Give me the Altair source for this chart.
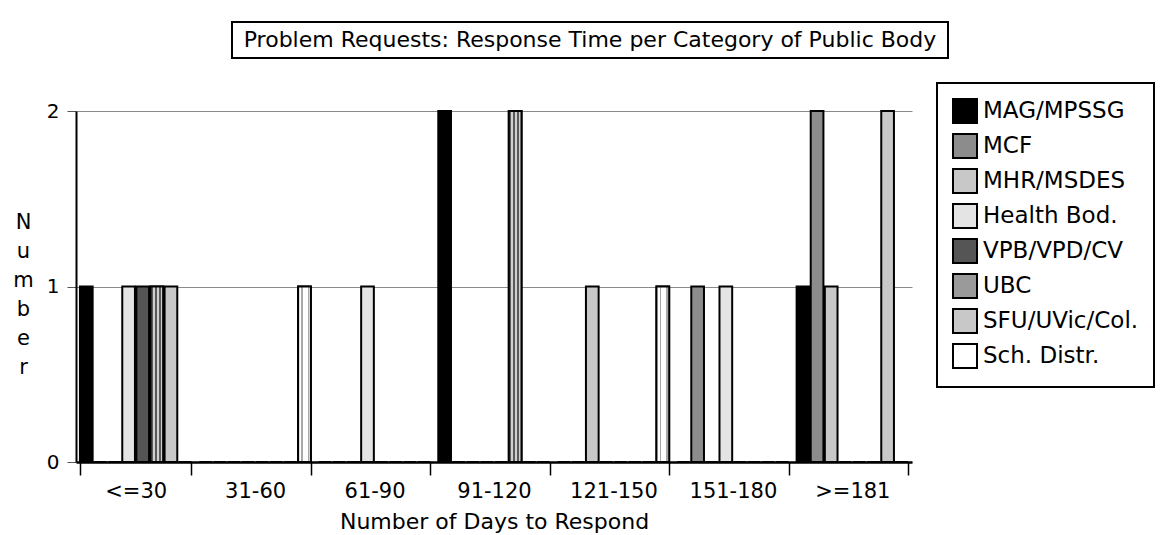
import altair as alt
import pandas as pd

# ---- data ----
categories = ["<=30", "31-60", "61-90", "91-120", "121-150", "151-180", ">=181"]
series = ["MAG/MPSSG", "MCF", "MHR/MSDES", "Health Bod.", "VPB/VPD/CV",
          "UBC", "SFU/UVic/Col.", "Sch. Distr."]
mag_mpssg = [1, 0, 0, 2, 0, 0, 1]
mcf = [0, 0, 0, 0, 0, 1, 2]
mhr_msdes = [0, 0, 0, 0, 1, 0, 1]
health_bod = [1, 0, 1, 0, 0, 1, 0]
vpb_vpd_cv = [1, 0, 0, 0, 0, 0, 0]
ubc = [1, 0, 0, 2, 0, 0, 0]
sfu_uvic_col = [1, 0, 0, 0, 0, 0, 2]
sch_distr = [0, 1, 0, 0, 1, 0, 0]
y_ticks = [0, 1, 2]

title_text = "Problem Requests: Response Time per Category of Public Body"
x_title = "Number of Days to Respond"
y_title = "Number"

# ---- styles ----
series_colors = ["#000000", "#8c8c8c", "#c8c8c8", "#e4e4e4", "#555555",
                 "#9a9a9a", "#c8c8c8", "#ffffff"]
FONT = "DejaVu Sans"


def stripes(colors, n):
    stops = []
    for i in range(n):
        c = colors[i % len(colors)]
        stops.append({"offset": i / n, "color": c})
        stops.append({"offset": (i + 1) / n, "color": c})
    return {"gradient": "linear", "x1": 0, "y1": 0, "x2": 1, "y2": 0, "stops": stops}


ubc_fill = stripes(["#5a5a5a", "#cfcfcf"], 6)
sch_fill = stripes(["#ffffff", "#ffffff", "#a8a8a8", "#ffffff", "#ffffff", "#ffffff", "#a8a8a8", "#ffffff"], 8)

values_by_series = [mag_mpssg, mcf, mhr_msdes, health_bod, vpb_vpd_cv, ubc, sfu_uvic_col, sch_distr]
rows = []
for s, vals in zip(series, values_by_series):
    for c, v in zip(categories, vals):
        rows.append({"Days": c, "Series": s, "Count": v})
df = pd.DataFrame(rows)

x_enc = alt.X(
    "Days:N", sort=categories,
    scale=alt.Scale(domain=categories, paddingInner=0.067, paddingOuter=0.033),
    axis=alt.Axis(
        title=x_title, labelAngle=0, labelFontSize=21, labelColor="black",
        tickSize=13, tickColor="black", tickWidth=1.5, tickBand="extent",
        labelPadding=5, domainColor="black", domainWidth=2.5,
        titleFontSize=22, titleFontWeight="normal", titleColor="black",
        titleY=66, titleBaseline="alphabetic", grid=False,
    ),
)
xoff_enc = alt.XOffset(
    "Series:N", sort=series,
    scale=alt.Scale(domain=series, paddingInner=0.1, paddingOuter=0),
)
y_enc = alt.Y(
    "Count:Q",
    scale=alt.Scale(domain=[0, 2], nice=False),
    axis=alt.Axis(
        values=y_ticks, tickCount=3, format=".0f", labelOverlap=False,
        title=list(y_title), titleAngle=0,
        titleFontSize=21, titleFontWeight="normal", titleColor="black",
        titleLineHeight=29, titleX=-53, titleY=111, titleAlign="center",
        titleBaseline="middle",
        labelFontSize=20, labelColor="black", labelPadding=8,
        tickSize=9, tickColor="#555555", tickWidth=1,
        domainColor="black", domainWidth=2,
        grid=True, gridColor="#8a8a8a", gridWidth=1,
    ),
)

bars = alt.Chart(df).mark_bar(stroke="black", strokeWidth=2).encode(
    x=x_enc, xOffset=xoff_enc, y=y_enc,
    color=alt.Color(
        "Series:N", sort=series,
        scale=alt.Scale(domain=series, range=series_colors),
        legend=alt.Legend(
            title=None, orient="none", legendX=861, legendY=-28,
            symbolType="square", symbolSize=576,
            symbolStrokeColor="black", symbolStrokeWidth=2,
            labelFontSize=23, labelFont=FONT, labelColor="black",
            labelOffset=5, rowPadding=3, padding=15,
            strokeColor="black", labelLimit=400,
        ),
    ),
)

ubc_layer = alt.Chart(df).transform_filter(
    (alt.datum.Series == "UBC") & (alt.datum.Count > 0)
).mark_bar(stroke="black", strokeWidth=2, fill=ubc_fill).encode(
    x=x_enc, xOffset=xoff_enc, y=y_enc,
)

sch_layer = alt.Chart(df).transform_filter(
    (alt.datum.Series == "Sch. Distr.") & (alt.datum.Count > 0)
).mark_bar(stroke="black", strokeWidth=2, fill=sch_fill).encode(
    x=x_enc, xOffset=xoff_enc, y=y_enc,
)

title_df = pd.DataFrame({"t": [title_text]})
title_box = alt.Chart(title_df).mark_rect(
    fill="white", stroke="black", strokeWidth=2
).encode(
    x=alt.value(156), x2=alt.value(872), y=alt.value(-89), y2=alt.value(-53)
)
title_label = alt.Chart(title_df).mark_text(
    font=FONT, fontSize=22, color="black", align="center", baseline="middle"
).encode(
    text="t:N", x=alt.value(514), y=alt.value(-71)
)

chart = alt.layer(bars, ubc_layer, sch_layer, title_box, title_label).properties(
    width=836, height=351,
    autosize=alt.AutoSizeParams(type="none"),
    padding={"left": 76, "top": 111, "right": 258, "bottom": 73},
).configure(font=FONT).configure_view(stroke=None).configure_legend(strokeWidth=2)

chart.save("out.html", embed_options={"renderer": "svg", "actions": False})
